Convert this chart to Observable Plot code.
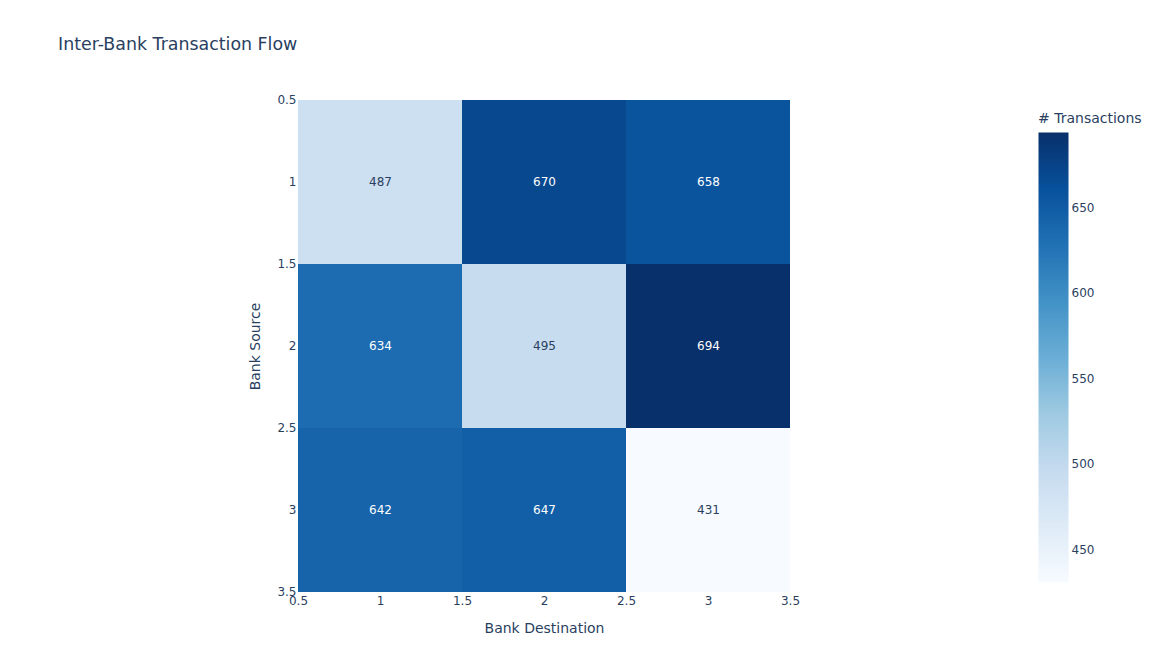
<!DOCTYPE html>
<html>
<head>
<meta charset="utf-8">
<script src="https://cdn.jsdelivr.net/npm/d3@7"></script>
<script src="https://cdn.jsdelivr.net/npm/@observablehq/plot@0.6"></script>
<style>
  html, body { margin: 0; padding: 0; background: #fff; }
  #wrap { position: relative; width: 1164px; height: 672px; font-family: "DejaVu Sans", verdana, arial, sans-serif; color: #2a3f5f; }
  #title { position: absolute; left: 58px; top: 34px; font-size: 17.4px; white-space: nowrap; }
  #cbtitle { position: absolute; left: 1038px; top: 110px; font-size: 14px; white-space: nowrap; }
  #main { position: absolute; left: 0; top: 0; }
  #cb { position: absolute; left: 1038px; top: 132px; }
  svg { overflow: visible; }
</style>
</head>
<body>
<div id="wrap">
  <div id="main"></div>
  <div id="cb"></div>
  <div id="title">Inter-Bank Transaction Flow</div>
  <div id="cbtitle"># Transactions</div>
</div>
<script>
// ---- data ----
const sources = [1, 2, 3];          // Bank Source (rows)
const destinations = [1, 2, 3];     // Bank Destination (columns)
const row1 = [487, 670, 658];
const row2 = [634, 495, 694];
const row3 = [642, 647, 431];
const counts = [row1, row2, row3];
const axisTicks = [0.5, 1, 1.5, 2, 2.5, 3, 3.5];
const colorbarTicks = [450, 500, 550, 600, 650];
const xTitle = "Bank Destination";
const yTitle = "Bank Source";
const blues = ["rgb(247,251,255)", "rgb(222,235,247)", "rgb(198,219,239)", "rgb(158,202,225)",
               "rgb(107,174,214)", "rgb(66,146,198)", "rgb(33,113,181)", "rgb(8,81,156)", "rgb(8,48,107)"];

const cells = sources.flatMap((s, i) => destinations.map((d, j) => ({source: s, dest: d, count: counts[i][j]})));
const vmin = d3.min(cells, d => d.count), vmax = d3.max(cells, d => d.count);
const interp = d3.piecewise(d3.interpolateRgb, blues);
const colorOpts = {type: "linear", domain: [vmin, vmax], interpolate: () => interp};
const tOf = d3.scaleLinear().domain([vmin, vmax]).range([0, 1]);
const textColor = v => d3.hsl(interp(tOf(v))).l < 0.6 ? "white" : "#2a3f5f";

const font = "'DejaVu Sans', verdana, arial, sans-serif";

const main = Plot.plot({
  width: 1164, height: 672,
  marginLeft: 298, marginRight: 374, marginTop: 100, marginBottom: 80,
  style: {fontFamily: font, fontSize: "12px", color: "#2a3f5f", background: "transparent"},
  x: {domain: [0.5, 3.5]},
  y: {domain: [0.5, 3.5], reverse: true},
  color: colorOpts,
  marks: [
    Plot.rect(cells, {x1: d => d.dest - 0.5, x2: d => d.dest + 0.5, y1: d => d.source - 0.5, y2: d => d.source + 0.5,
                      fill: "count", shapeRendering: "crispEdges"}),
    Plot.text(cells, {x: "dest", y: "source", text: d => String(d.count), fill: d => textColor(d.count), fontSize: 12}),
    Plot.axisX({ticks: axisTicks, tickSize: 0, tickPadding: 4, tickFormat: d => String(d), label: null, fontSize: 12}),
    Plot.axisY({ticks: axisTicks, tickSize: 0, tickPadding: 2, tickFormat: d => String(d), label: null, fontSize: 12}),
    Plot.text([xTitle], {frameAnchor: "bottom", dy: 40, textAnchor: "middle", fontSize: 14, fill: "#2a3f5f"}),
    Plot.text([yTitle], {frameAnchor: "left", dx: -43, rotate: -90, textAnchor: "middle", fontSize: 14, fill: "#2a3f5f"})
  ]
});
document.getElementById("main").appendChild(main);

const cb = Plot.plot({
  width: 100, height: 450,
  marginLeft: 0, marginRight: 70, marginTop: 0, marginBottom: 0,
  style: {fontFamily: font, fontSize: "12px", color: "#2a3f5f", background: "transparent"},
  x: {domain: [0, 1], axis: null},
  y: {domain: [vmin, vmax]},
  color: colorOpts,
  marks: [
    Plot.raster({x1: 0, x2: 1, y1: vmin, y2: vmax, width: 1, height: 450, fill: (x, y) => y}),
    Plot.axisY({anchor: "right", ticks: colorbarTicks, tickSize: 0, tickPadding: 3, label: null, fontSize: 12})
  ]
});
document.getElementById("cb").appendChild(cb);
</script>
</body>
</html>
